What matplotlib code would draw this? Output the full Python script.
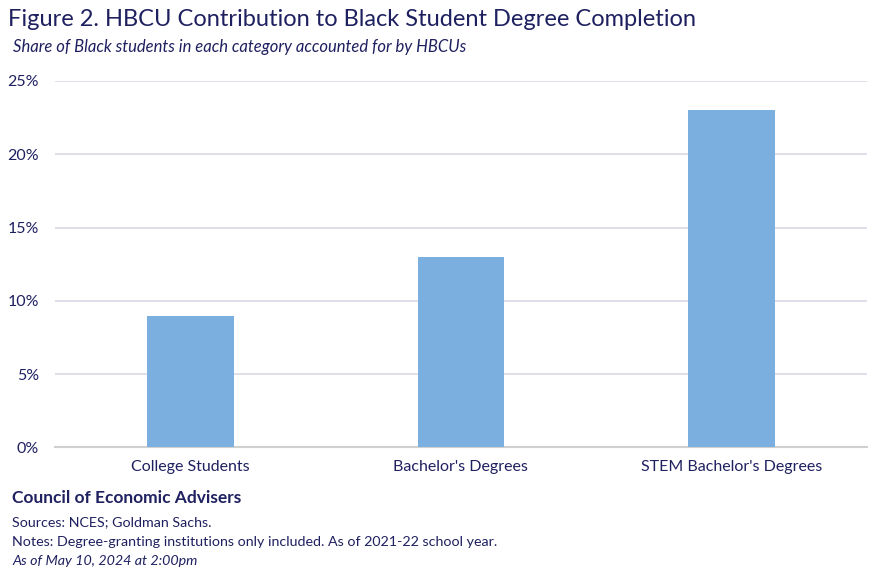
import matplotlib
matplotlib.use('Agg')
import matplotlib.pyplot as plt
import numpy as np

categories = ['College Students', "Bachelor's Degrees", "STEM Bachelor's Degrees"]
hbcu_share = [9, 13, 23]
yticks = [0, 5, 10, 15, 20, 25]

navy = '#1F2060'
bar_color = '#7AAFE0'
grid_color = '#D9D9E6'

plt.rcParams['font.family'] = ['Lato', 'DejaVu Sans']

fig = plt.figure(figsize=(8.8, 5.76), dpi=100)
ax = fig.add_axes([0.0625, 0.2231, 0.9225, 0.6363])

x = np.arange(len(categories))
ax.bar(x, hbcu_share, width=0.32, color=bar_color, zorder=3)

ax.set_xlim(-0.5, len(categories) - 0.5)
ax.set_ylim(0, 25)
ax.set_yticks(yticks)
ax.set_yticklabels([f'{v}%' for v in yticks])
ax.set_xticks(x)
ax.set_xticklabels(categories)
ax.tick_params(axis='both', length=0, labelsize=11.5, colors=navy)
ax.tick_params(axis='x', pad=9)
ax.tick_params(axis='y', pad=11.5)

ax.grid(axis='y', color=grid_color, linewidth=1.2, zorder=0)
for s in ['top', 'right', 'left']:
    ax.spines[s].set_visible(False)
ax.spines['bottom'].set_color('#D0D0D0')
ax.spines['bottom'].set_linewidth(1.5)

fig.text(8 / 880, 1 - 20 / 576, 'Figure 2. HBCU Contribution to Black Student Degree Completion',
         fontsize=17, color=navy, va='center', ha='left')
fig.text(13 / 880, 1 - 47 / 576, 'Share of Black students in each category accounted for by HBCUs',
         fontsize=12, color=navy, style='italic', va='center', ha='left')

fig.text(12 / 880, 1 - 498 / 576, 'Council of Economic Advisers',
         fontsize=12.5, color=navy, weight='bold', va='center', ha='left')
fig.text(12 / 880, 1 - 522 / 576, 'Sources: NCES; Goldman Sachs.',
         fontsize=10.3, color=navy, va='center', ha='left')
fig.text(12 / 880, 1 - 542 / 576, 'Notes: Degree-granting institutions only included. As of 2021-22 school year.',
         fontsize=10.3, color=navy, va='center', ha='left')
fig.text(12 / 880, 1 - 561 / 576, 'As of May 10, 2024 at 2:00pm',
         fontsize=10.3, color=navy, style='italic', va='center', ha='left')

fig.savefig('out.png', dpi=100)
